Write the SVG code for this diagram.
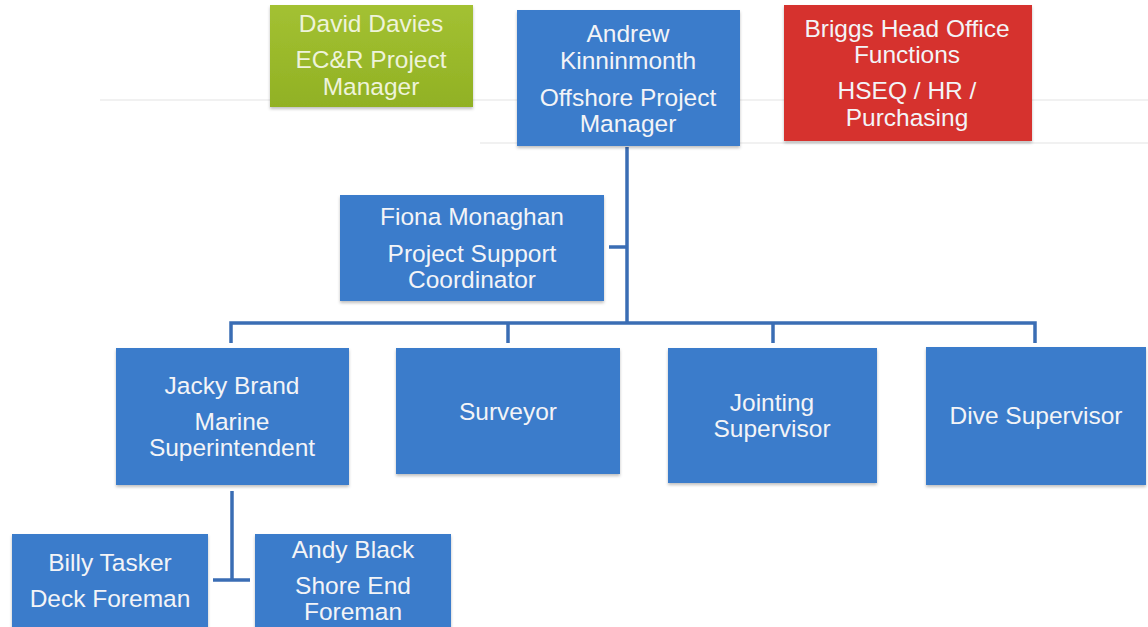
<svg xmlns="http://www.w3.org/2000/svg" width="1148" height="627" viewBox="0 0 1148 627">
  <defs>
    <style>
      .box { stroke: none; filter: url(#shade); }
      .blue { fill: #3b7bcb; }
      .green { fill: url(#greenFill); }
      .red { fill: #d6312d; }
      .lbl { font-family: "Liberation Sans", Arial, sans-serif; font-size: 24.5px; fill: #f3f4f7; text-anchor: middle; }
      .lbl-g { fill: #eef3da; }
      .wire { stroke: #3a6db4; stroke-width: 3.5; fill: none; stroke-linecap: butt; }
      .ghost { stroke: #f1f1f1; stroke-width: 2; }
    </style>
    <linearGradient id="greenFill" x1="0" y1="0" x2="0" y2="1">
      <stop offset="0" stop-color="#a3c132"/>
      <stop offset="1" stop-color="#91b124"/>
    </linearGradient>
    <filter id="shade" x="-5%" y="-5%" width="110%" height="115%">
      <feDropShadow dx="0" dy="2" stdDeviation="1.5" flood-color="#000" flood-opacity="0.25"/>
    </filter>
  </defs>

  <rect width="1148" height="627" fill="#ffffff"/>
  <!-- faint paper marks -->
  <line class="ghost" x1="100" y1="100" x2="1148" y2="100"/>
  <line class="ghost" x1="480" y1="143" x2="1148" y2="143"/>

  <g id="connectors">
    <!-- manager down to team bar -->
    <line class="wire" x1="627" y1="147" x2="627" y2="323"/>
    <!-- support coordinator tap -->
    <line class="wire" x1="609" y1="247" x2="627" y2="247"/>
    <!-- team bar and drops -->
    <path class="wire" d="M231 343 V323 H1035 V343"/>
    <line class="wire" x1="508" y1="323" x2="508" y2="343"/>
    <line class="wire" x1="773" y1="323" x2="773" y2="343"/>
    <!-- marine superintendent to foremen -->
    <line class="wire" x1="232" y1="491" x2="232" y2="581"/>
    <line class="wire" x1="213" y1="580" x2="250" y2="580"/>
  </g>

  <g id="david-davies">
    <rect class="box green" x="270" y="5" width="203" height="102"/>
    <text class="lbl lbl-g" x="371" y="32">David Davies</text>
    <text class="lbl lbl-g" x="371" y="68">EC&amp;R Project</text>
    <text class="lbl lbl-g" x="371" y="95">Manager</text>
  </g>

  <g id="andrew-kinninmonth">
    <rect class="box blue" x="517" y="10" width="223" height="136"/>
    <text class="lbl" x="628" y="42">Andrew</text>
    <text class="lbl" x="628" y="69">Kinninmonth</text>
    <text class="lbl" x="628" y="106">Offshore Project</text>
    <text class="lbl" x="628" y="132">Manager</text>
  </g>

  <g id="head-office">
    <rect class="box red" x="784" y="5" width="248" height="136"/>
    <text class="lbl" x="907" y="37">Briggs Head Office</text>
    <text class="lbl" x="907" y="63">Functions</text>
    <text class="lbl" x="907" y="99">HSEQ / HR /</text>
    <text class="lbl" x="907" y="126">Purchasing</text>
  </g>

  <g id="fiona-monaghan">
    <rect class="box blue" x="340" y="195" width="264" height="106"/>
    <text class="lbl" x="472" y="225">Fiona Monaghan</text>
    <text class="lbl" x="472" y="262">Project Support</text>
    <text class="lbl" x="472" y="288">Coordinator</text>
  </g>

  <g id="jacky-brand">
    <rect class="box blue" x="116" y="348" width="233" height="137"/>
    <text class="lbl" x="232" y="394">Jacky Brand</text>
    <text class="lbl" x="232" y="430">Marine</text>
    <text class="lbl" x="232" y="456">Superintendent</text>
  </g>

  <g id="surveyor">
    <rect class="box blue" x="396" y="348" width="224" height="126"/>
    <text class="lbl" x="508" y="420">Surveyor</text>
  </g>

  <g id="jointing-supervisor">
    <rect class="box blue" x="668" y="348" width="209" height="135"/>
    <text class="lbl" x="772" y="411">Jointing</text>
    <text class="lbl" x="772" y="437">Supervisor</text>
  </g>

  <g id="dive-supervisor">
    <rect class="box blue" x="926" y="347" width="220" height="138"/>
    <text class="lbl" x="1036" y="424">Dive Supervisor</text>
  </g>

  <g id="billy-tasker">
    <rect class="box blue" x="12" y="534" width="196" height="100"/>
    <text class="lbl" x="110" y="571">Billy Tasker</text>
    <text class="lbl" x="110" y="607">Deck Foreman</text>
  </g>

  <g id="andy-black">
    <rect class="box blue" x="255" y="534" width="196" height="100"/>
    <text class="lbl" x="353" y="558">Andy Black</text>
    <text class="lbl" x="353" y="594">Shore End</text>
    <text class="lbl" x="353" y="620">Foreman</text>
  </g>
</svg>
